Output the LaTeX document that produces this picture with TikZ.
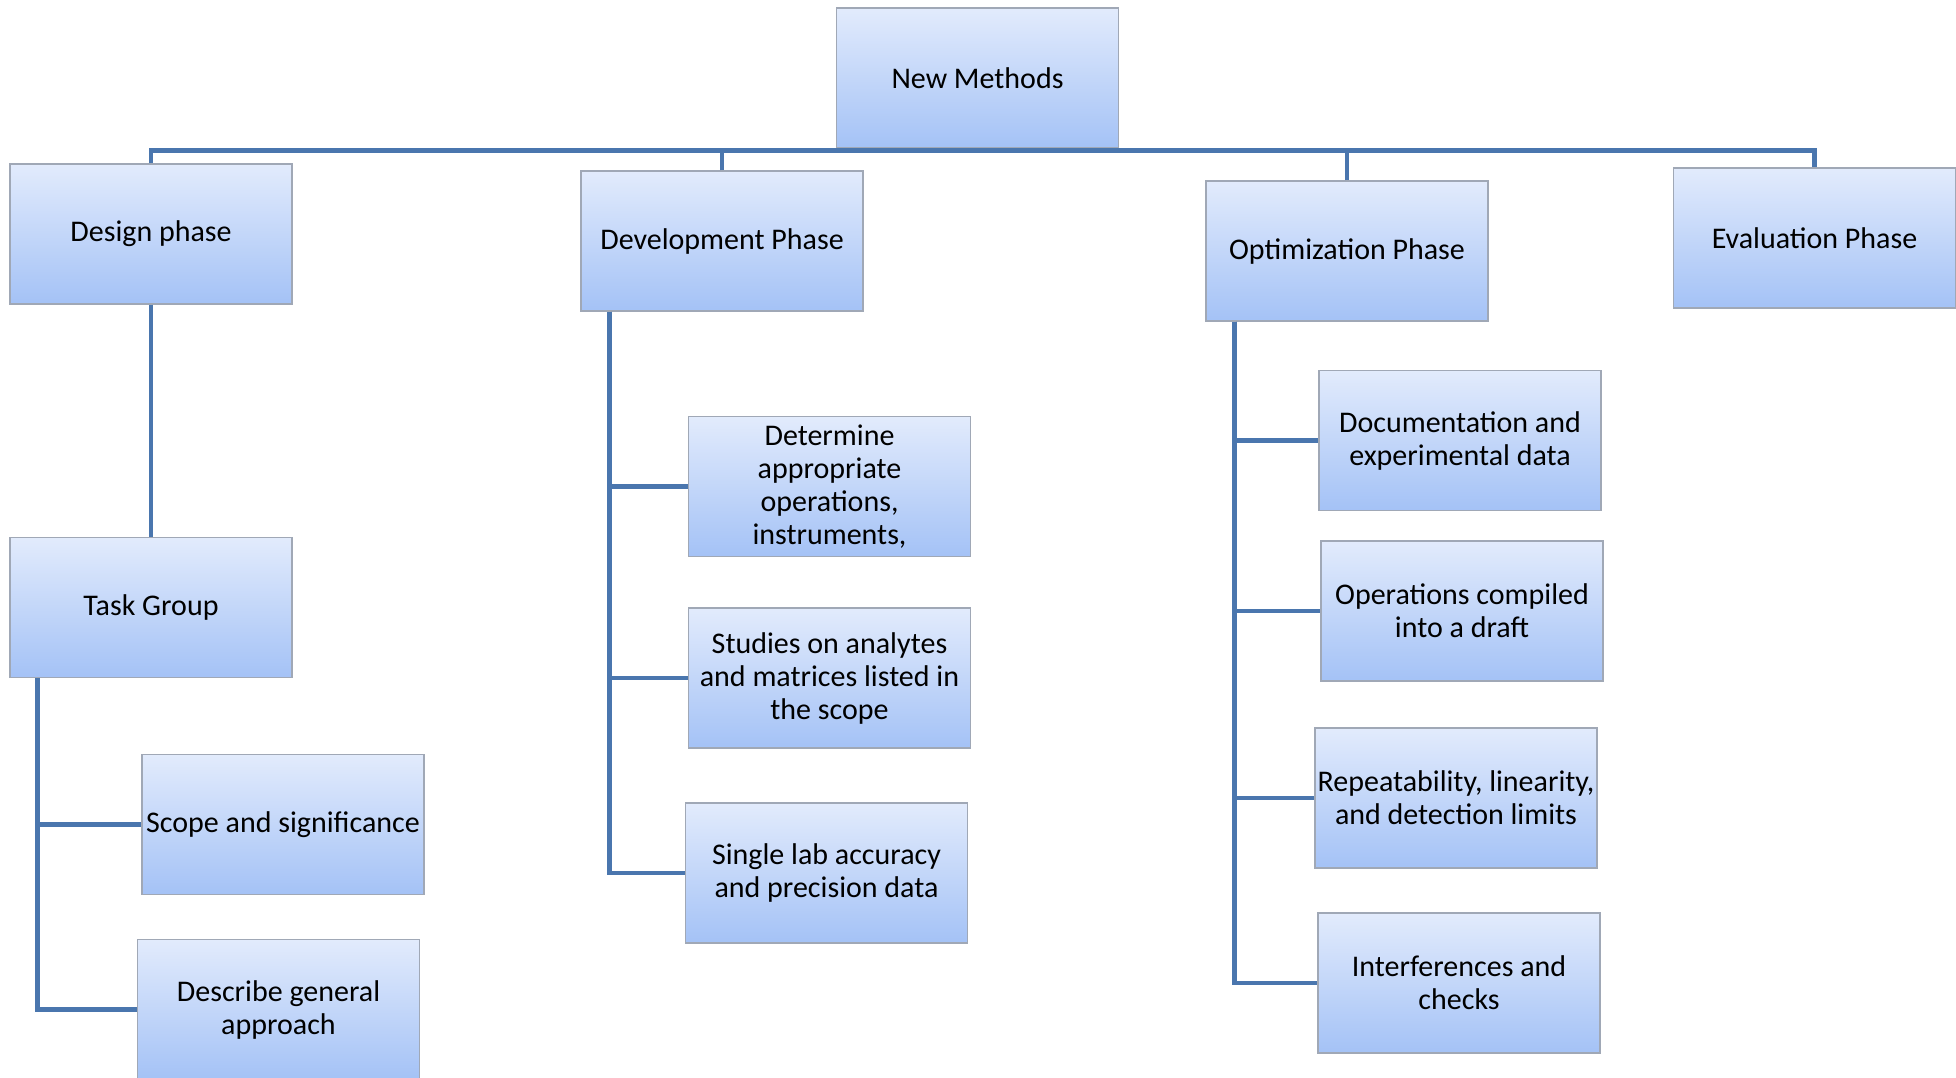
\documentclass[tikz,border=0pt]{standalone}
\usepackage{fontspec}
\setmainfont{Carlito}
\definecolor{boxtop}{RGB}{226,235,252}
\definecolor{boxbot}{RGB}{164,194,246}
\definecolor{boxline}{RGB}{160,168,182}
\definecolor{linec}{RGB}{74,118,174}
\begin{document}
\begin{tikzpicture}[x=1pt,y=-1pt,
  box/.style={draw=boxline, line width=1.2pt, top color=boxtop, bottom color=boxbot,
    minimum width=282pt, minimum height=140pt, align=center, inner sep=2pt,
    font=\fontsize{30}{33}\selectfont, text=black},
  conn/.style={draw=linec, line width=4.5pt}]
\useasboundingbox (0,0) rectangle (1956,1077);
\fill[white] (0,0) rectangle (1956,1077);
% nodes
\node[box] (nm)  at (977.5,78)   {New Methods};
\node[box] (dp)  at (151,234)    {Design phase};
\node[box] (dev) at (722,241)    {Development Phase};
\node[box] (opt) at (1347,251)   {Optimization Phase};
\node[box] (ev)  at (1814.5,238) {Evaluation Phase};
\node[box] (tg)  at (151,607.5)  {Task Group};
\node[box] (ss)  at (283,824.5)  {Scope and significance};
\node[box] (dga) at (278.5,1009.5) {Describe general\\approach};
\node[box] (det) at (829.5,486.5) {Determine\\appropriate\\operations,\\instruments,};
\node[box] (stu) at (829.5,678)  {Studies on analytes\\and matrices listed in\\the scope};
\node[box] (sla) at (826.5,873)  {Single lab accuracy\\and precision data};
\node[box] (doc) at (1460,440.5) {Documentation and\\experimental data};
\node[box] (ops) at (1462,611)   {Operations compiled\\into a draft};
\node[box] (rep) at (1456,798)   {Repeatability, linearity,\\and detection limits};
\node[box] (int) at (1459,983)   {Interferences and\\checks};
% bus
\coordinate (bus) at ([yshift=-2pt]nm.south);
\draw[conn] (dp.north) -- (dp.north |- bus) -- (ev.north |- bus) -- (ev.north);
\draw[conn] (dev.north) -- (dev.north |- bus);
\draw[conn] (opt.north) -- (opt.north |- bus);
% design
\draw[conn] (dp.south) -- (tg.north);
\coordinate (tgv) at ([xshift=28pt]tg.south west);
\draw[conn] (tgv) |- (dga.west);
\draw[conn] (tgv) |- (ss.west);
% development
\coordinate (dvv) at ([xshift=29pt]dev.south west);
\draw[conn] (dvv) |- (sla.west);
\draw[conn] (dvv) |- (det.west);
\draw[conn] (dvv) |- (stu.west);
% optimization
\coordinate (opv) at ([xshift=29pt]opt.south west);
\draw[conn] (opv) |- (int.west);
\draw[conn] (opv) |- (doc.west);
\draw[conn] (opv) |- (ops.west);
\draw[conn] (opv) |- (rep.west);
\end{tikzpicture}
\end{document}
